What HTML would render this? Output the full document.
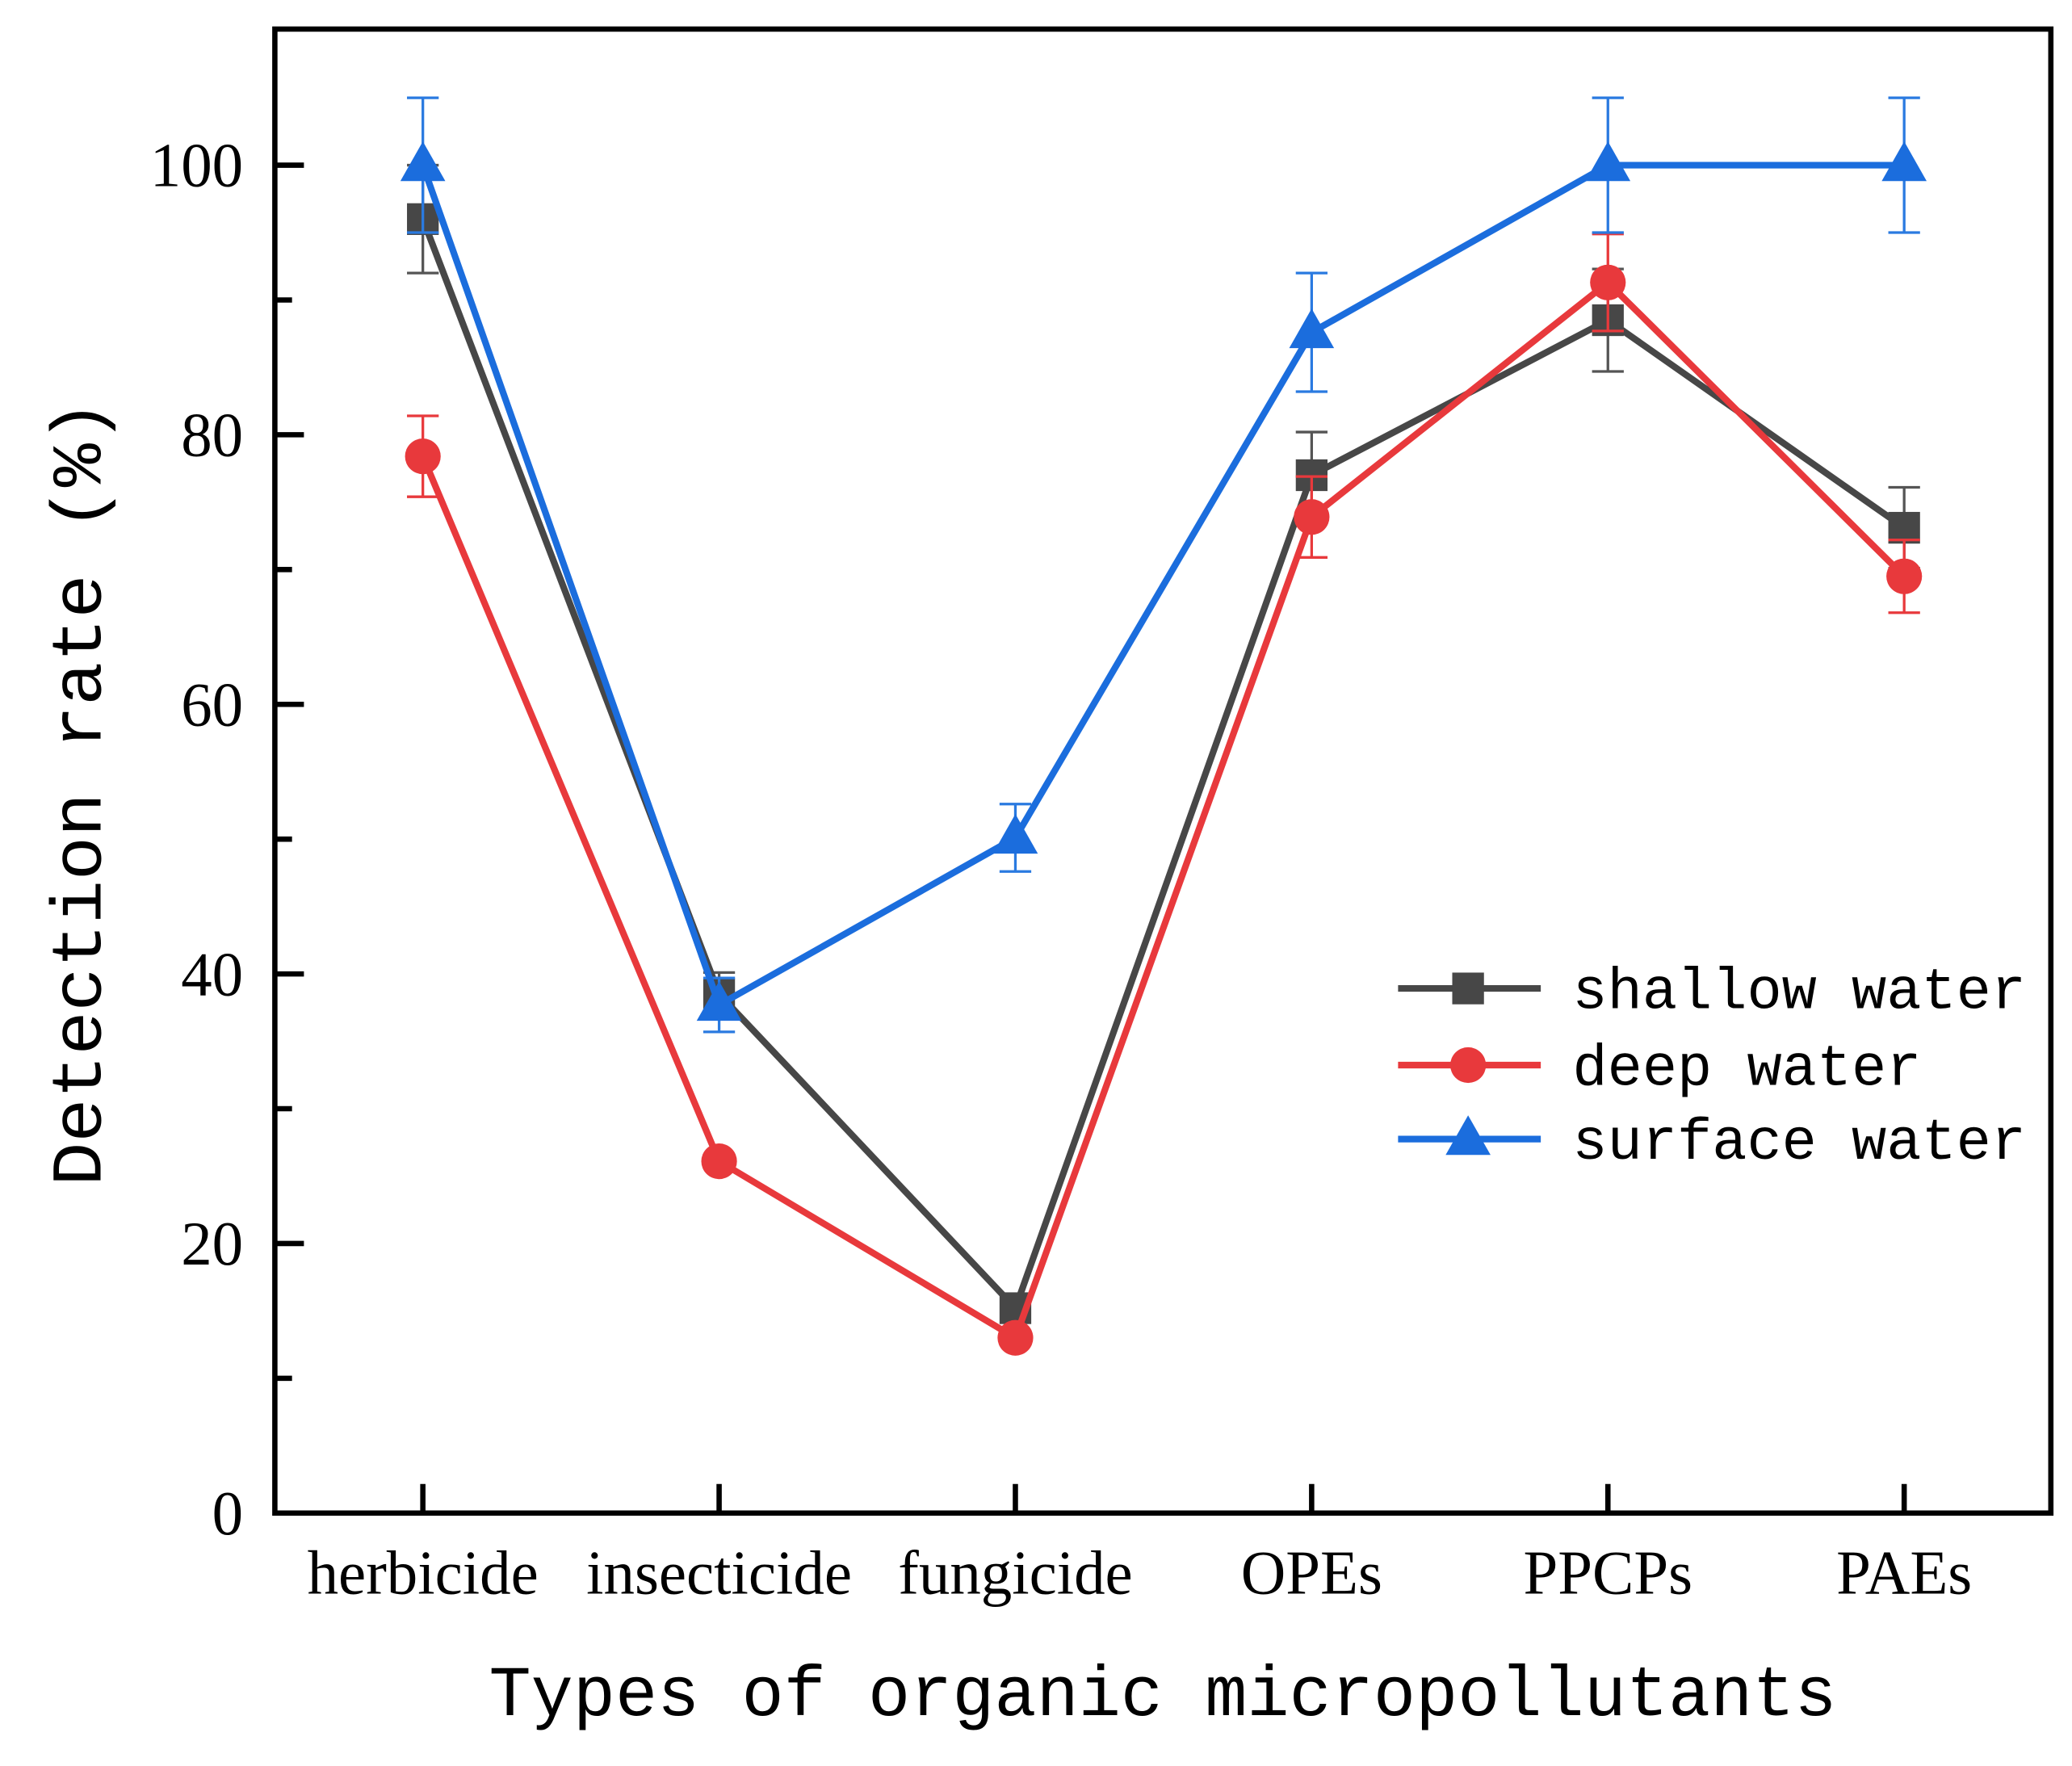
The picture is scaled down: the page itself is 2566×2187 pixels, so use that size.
<!DOCTYPE html>
<html><head><meta charset="utf-8"><style>html,body{margin:0;padding:0;background:#fff}svg{display:block}</style></head>
<body>
<svg id="chart" width="2566" height="2187" viewBox="0 0 1568 1336.4" xmlns="http://www.w3.org/2000/svg">
<rect width="1568" height="1336.4" fill="#fff"/>
<g id="plot"></g>
</svg>
<script>
const categories = ["herbicide","insecticide","fungicide","OPEs","PPCPs","PAEs"];
const shallowVals = [96, 38.5, 15.2, 77, 88.5, 73.1];
const shallowErr = [4, 1.6, 0, 3.2, 3.8, 3];
const deepVals = [78.4, 26.1, 13, 73.9, 91.3, 69.5];
const deepErr = [3, 0, 0, 3, 3.6, 2.7];
const surfaceVals = [100, 37.7, 50.1, 87.6, 100, 100];
const surfaceErr = [5, 2, 2.5, 4.4, 5, 5];
const yTicks = [0, 20, 40, 60, 80, 100];
const yMinor = [10, 30, 50, 70, 90];

const NS = "http://www.w3.org/2000/svg";
const g = document.getElementById("plot");
const L = 208, R = 1552, T = 22, B = 1145;
function xS(i){ return 320 + i * 224.2; }
function yS(v){ return B - v * (B - 125) / 100; }
function mk(tag, attrs, parent){
  const e = document.createElementNS(NS, tag);
  for (const k in attrs) e.setAttribute(k, attrs[k]);
  (parent || g).appendChild(e);
  return e;
}
let fr = mk("rect", {x:L, y:T, width:R-L, height:B-T, fill:"none", stroke:"#000", "stroke-width":4});


yTicks.forEach(v => {
  const t = mk("line", {x1:L, x2:L+22, y1:yS(v), y2:yS(v), stroke:"#000", "stroke-width":4});
  
  
  const lb = mk("text", {x:184, y:yS(v)+16, "text-anchor":"end", "font-family":"Liberation Serif, serif", "font-size":47});
  lb.textContent = v;
  
  
});
yMinor.forEach(v => {
  const t = mk("line", {x1:L, x2:L+13, y1:yS(v), y2:yS(v), stroke:"#000", "stroke-width":4});
  
  
});
categories.forEach((c, i) => {
  const t = mk("line", {x1:xS(i), x2:xS(i), y1:B, y2:B-22, stroke:"#000", "stroke-width":4});
  
  
  const lb = mk("text", {x:xS(i), y:1206, "text-anchor":"middle", "font-family":"Liberation Serif, serif", "font-size":47});
  lb.textContent = c;
  
  
});
const xt = mk("text", {x:880, y:1298, "text-anchor":"middle", "font-family":"Liberation Mono, monospace", "font-size":54, textLength:1020, lengthAdjust:"spacingAndGlyphs"});
xt.textContent = "Types of organic micropollutants";


const yt = mk("text", {x:0, y:0, "text-anchor":"middle", "font-family":"Liberation Mono, monospace", "font-size":54, textLength:595, lengthAdjust:"spacingAndGlyphs", transform:"translate(76,600) rotate(-90)"});
yt.textContent = "Detection rate (%)";



function marker(type, x, y, color, parent){
  let m;
  if (type === "square") m = mk("rect", {x:x-12, y:y-12, width:24, height:24, fill:color}, parent);
  else if (type === "circle") m = mk("circle", {cx:x, cy:y, r:13.5, fill:color}, parent);
  else m = mk("polygon", {points:`${x},${y-18} ${x-17},${y+12} ${x+17},${y+12}`, fill:color}, parent);
  return m;
}
function series(name, vals, errs, color, errColor, type){
  const sg = mk("g", {});
  
  
  vals.forEach((v, i) => {
    if (errs[i] > 0) {
      const x = xS(i), y1 = yS(v - errs[i]), y2 = yS(v + errs[i]);
      const e = mk("path", {d:`M${x},${y1}V${y2}M${x-12},${y1}H${x+12}M${x-12},${y2}H${x+12}`, stroke:errColor, "stroke-width":2, fill:"none"}, sg);
      
      
    }
  });
  const pl = mk("polyline", {points: vals.map((v,i)=>xS(i)+","+yS(v)).join(" "), fill:"none", stroke:color, "stroke-width":5, "stroke-linejoin":"round"}, sg);
  
  
  vals.forEach((v, i) => {
    const m = marker(type, xS(i), yS(v), color, sg);
    
    
  });
}
series("shallow-water", shallowVals, shallowErr, "#474747", "#555", "square");
series("deep-water", deepVals, deepErr, "#e8393c", "#e8393c", "circle");
series("surface-water", surfaceVals, surfaceErr, "#1b6ddd", "#2a7ae0", "triangle");

const lg = mk("g", {});


[["shallow water","#474747","square",748],["deep water","#e8393c","circle",806],["surface water","#1b6ddd","triangle",862]].forEach(d => {
  const eg = mk("g", {}, lg);
  
  
  mk("line", {x1:1058, x2:1166, y1:d[3], y2:d[3], stroke:d[1], "stroke-width":5}, eg);
  marker(d[2], 1111, d[3], d[1], eg);
  const t = mk("text", {x:1190, y:d[3]+15, "font-family":"Liberation Mono, monospace", "font-size":44}, eg);
  t.textContent = d[0];
});
</script>
</body></html>
